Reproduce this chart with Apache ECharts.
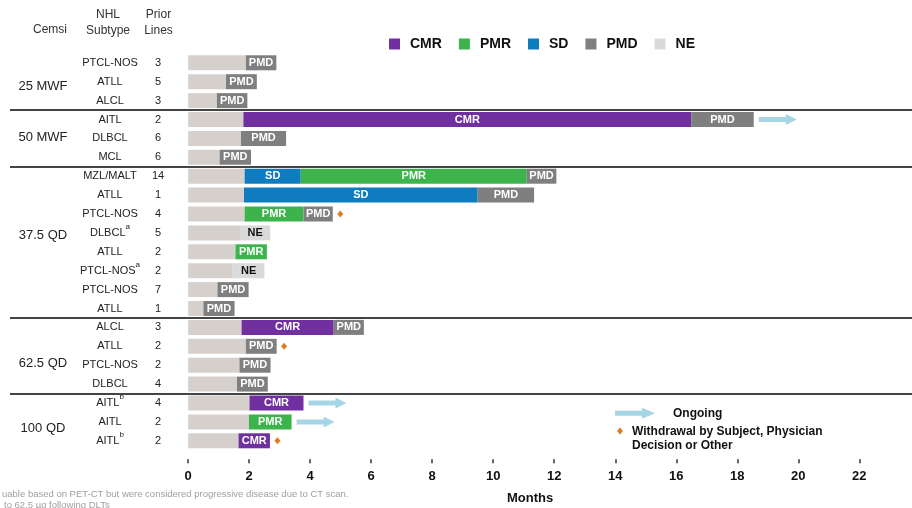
<!doctype html>
<html>
<head>
<meta charset="utf-8">
<title></title>
<script src="https://cdn.jsdelivr.net/npm/echarts@6/dist/echarts.min.js"></script>
</head>
<body style="margin:0">
<div id="chart" style="width: 912px; height: 508px;"></div>
<script>
// table columns
var subtypes = ['PTCL-NOS','ATLL','ALCL','AITL','DLBCL','MCL','MZL/MALT','ATLL','PTCL-NOS','DLBCL','ATLL','PTCL-NOS','PTCL-NOS','ATLL','ALCL','ATLL','PTCL-NOS','DLBCL','AITL','AITL','AITL'];
var notes = ['','','','','','','','','','a','','a','','','','','','','b','','b'];
var priorLines = [3,5,3,2,6,6,14,1,4,5,2,2,7,1,3,2,2,4,4,2,2];
var doses = ['25 MWF','50 MWF','37.5 QD','62.5 QD','100 QD'];
var doseRows = [1, 4, 9, 16, 19];
var groupBreaks = [3, 6, 14, 18];

// months per segment, one value per patient row ('-' = none)
var base = [1.89,1.24,0.94,1.81,1.73,1.03,1.85,1.83,1.85,1.70,1.55,1.46,0.96,0.50,1.75,1.89,1.68,1.60,2.01,1.99,1.65];
var sd   = ['-','-','-','-','-','-',1.84,7.66,'-','-','-','-','-','-','-','-','-','-','-','-','-'];
var cmr  = ['-','-','-',14.68,'-','-','-','-','-','-','-','-','-','-',3.02,'-','-','-',1.77,'-',1.03];
var pmr  = ['-','-','-','-','-','-',7.41,'-',1.93,'-',1.03,'-','-','-','-','-','-','-','-',1.40,'-'];
var ne   = ['-','-','-','-','-','-','-','-','-',0.99,'-',1.04,'-','-','-','-','-','-','-','-','-'];
var pmd  = [1.00,1.01,1.00,2.05,1.48,1.03,0.97,1.85,0.96,'-','-','-',1.02,1.02,0.99,1.01,1.02,1.01,'-','-','-'];
var ongoing = [3, 18, 19];
var withdrawn = [8, 15, 20];
var xTicks = [0,2,4,6,8,10,12,14,16,18,20,22];

var FONT = '"Liberation Sans", Arial, sans-serif';
var rowIds = subtypes.map(function (s, i) { return 'r' + i; });

function rowEnd(i) {
    var s = 0;
    [base, sd, cmr, pmr, ne, pmd].forEach(function (a) { if (a[i] !== '-') s += a[i]; });
    return s;
}

function seg(name, values, color, textColor) {
    return {
        type: 'bar', name: name, stack: 'all', barWidth: 15,
        data: values, itemStyle: {color: color}, silent: true,
        label: {
            show: name !== 'base', position: 'inside', formatter: name,
            color: textColor, fontWeight: 'bold', fontSize: 11, fontFamily: FONT
        }
    };
}

function sideAxis(offset, fmt, size, rich) {
    return {
        gridIndex: 0, type: 'category', data: rowIds, inverse: true, position: 'left', offset: offset,
        axisLine: {show: false}, axisTick: {show: false}, splitLine: {show: false},
        axisLabel: {
            margin: 0, align: 'center', interval: 0, formatter: fmt,
            color: '#222', fontSize: size, fontFamily: FONT, rich: rich
        }
    };
}

// dose labels sit a little off their row in the original
var doseRich = {
    d0: {fontSize: 13, fontFamily: FONT, color: '#222', padding: [10, 0, 0, 0]},
    d1: {fontSize: 13, fontFamily: FONT, color: '#222', padding: [0, 0, 2, 0]},
    d2: {fontSize: 13, fontFamily: FONT, color: '#222', padding: [6, 0, 0, 0]},
    d3: {fontSize: 13, fontFamily: FONT, color: '#222', padding: [0, 0, 4, 0]},
    d4: {fontSize: 13, fontFamily: FONT, color: '#222', padding: [14, 0, 0, 0]}
};

var myChart = echarts.init(document.getElementById('chart'));
var option = {
    animation: false,
    grid: [
        {left: 183.3, right: 35, top: 53.35, bottom: 57.75, outerBoundsMode: 'none'},
        {left: 10, right: 0, top: 53.35, bottom: 57.75, outerBoundsMode: 'none'}
    ],
    legend: {
        data: ['CMR','PMR','SD','PMD','NE'],
        left: 384, top: 32, icon: 'rect', itemWidth: 11, itemHeight: 11, itemGap: 17,
        selectedMode: false,
        textStyle: {fontWeight: 'bold', fontSize: 14, color: '#111', fontFamily: FONT, padding: [0,0,0,5]}
    },
    xAxis: [{
        gridIndex: 0, type: 'value', min: -0.16, max: 22.58, offset: 9,
        splitLine: {show: false},
        axisLine: {lineStyle: {color: '#333', width: 1.5}},
        axisTick: {show: true, length: 4, customValues: xTicks, lineStyle: {color: '#333', width: 1.5}},
        axisLabel: {customValues: xTicks, margin: 11, fontWeight: 'bold', fontSize: 13, color: '#111', fontFamily: FONT},
        name: 'Months', nameLocation: 'middle', nameGap: 33,
        nameTextStyle: {fontWeight: 'bold', fontSize: 13, color: '#111', fontFamily: FONT}
    }, {
        gridIndex: 1, type: 'value', min: 0, max: 1, show: false
    }],
    yAxis: [
        {gridIndex: 0, type: 'category', data: rowIds, inverse: true,
         axisLine: {show: false}, axisTick: {show: false}, axisLabel: {show: false}},
        sideAxis(73.3, function (v, i) {
            return notes[i] ? '{m|' + subtypes[i] + '}{s|' + notes[i] + '}' : subtypes[i];
        }, 11, {
            m: {fontSize: 11, lineHeight: 20, color: '#222', fontFamily: FONT},
            s: {fontSize: 8, lineHeight: 8, verticalAlign: 'top', color: '#222', fontFamily: FONT}
        }),
        sideAxis(25.3, function (v, i) { return String(priorLines[i]); }, 11),
        sideAxis(140.3, function (v, i) {
            var k = doseRows.indexOf(i);
            return k < 0 ? '' : '{d' + k + '|' + doses[k] + '}';
        }, 13, doseRich),
        {gridIndex: 1, type: 'value', min: 0, max: subtypes.length, inverse: true, show: false}
    ],
    series: [
        seg('base', base, '#d6d0cd', '#fff'),
        seg('SD', sd, '#0f7cc0', '#fff'),
        seg('CMR', cmr, '#7030a0', '#fff'),
        seg('PMR', pmr, '#3cb44b', '#fff'),
        seg('NE', ne, '#dadada', '#111'),
        seg('PMD', pmd, '#7f7f7f', '#fff'),
        {
            type: 'scatter', name: 'Ongoing', silent: true,
            symbol: 'path://M0,3L27,3L27,0L38,5.5L27,11L27,8L0,8Z',
            symbolSize: [38, 11], symbolOffset: [24, 0], symbolKeepAspect: false,
            itemStyle: {color: '#a6d5e6', opacity: 1},
            data: ongoing.map(function (i) { return [rowEnd(i), i]; })
        },
        {
            type: 'scatter', name: 'Withdrawal', silent: true,
            symbol: 'diamond', symbolSize: [6, 7], symbolOffset: [7.5, 0],
            itemStyle: {color: '#e07b20', opacity: 1},
            data: withdrawn.map(function (i) { return [rowEnd(i), i]; })
        },
        {
            // group separators across the table and the bars
            type: 'scatter', name: 'separators', xAxisIndex: 1, yAxisIndex: 4, silent: true,
            symbolSize: 0, data: [[0, 0]],
            markLine: {
                silent: true, symbol: 'none', label: {show: false},
                lineStyle: {color: '#444', width: 2, type: 'solid'},
                data: groupBreaks.map(function (b) { return {yAxis: b}; })
            }
        }
    ],
    graphic: [
        {type: 'text', x: 50, y: 30, style: {text: 'Cemsi', align: 'center', verticalAlign: 'middle', fill: '#333', font: '12px ' + FONT}},
        {type: 'text', x: 108, y: 22.5, style: {text: 'NHL\nSubtype', align: 'center', verticalAlign: 'middle', lineHeight: 15.5, fill: '#333', font: '12px ' + FONT}},
        {type: 'text', x: 158.5, y: 22.5, style: {text: 'Prior\nLines', align: 'center', verticalAlign: 'middle', lineHeight: 15.5, fill: '#333', font: '12px ' + FONT}},
        {type: 'polygon', shape: {points: [[615,410.8],[642,410.8],[642,407.8],[655,413.3],[642,418.8],[642,415.8],[615,415.8]]}, style: {fill: '#a6d5e6'}},
        {type: 'text', x: 673, y: 414, style: {text: 'Ongoing', verticalAlign: 'middle', fill: '#111', font: 'bold 12px ' + FONT}},
        {type: 'polygon', shape: {points: [[620,427.5],[623,431],[620,434.5],[617,431]]}, style: {fill: '#e07b20'}},
        {type: 'text', x: 632, y: 438.5, style: {text: 'Withdrawal by Subject, Physician\nDecision or Other', verticalAlign: 'middle', lineHeight: 14, fill: '#111', font: 'bold 12px ' + FONT}},
        {type: 'text', x: 2, y: 494, style: {text: 'uable based on PET-CT but were considered progressive disease due to CT scan.', verticalAlign: 'middle', fill: '#a0a0a0', font: '9.5px ' + FONT}},
        {type: 'text', x: 4, y: 505, style: {text: 'to 62.5 \u00b5g following DLTs', verticalAlign: 'middle', fill: '#a0a0a0', font: '9.5px ' + FONT}}
    ]
};
myChart.setOption(option);
</script>
</body>
</html>
